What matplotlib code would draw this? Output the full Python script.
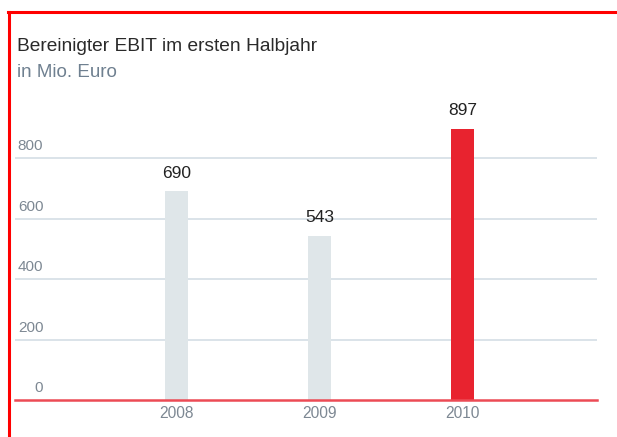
import matplotlib
matplotlib.use("Agg")
import matplotlib.pyplot as plt
from matplotlib.lines import Line2D

# data
years = ["2008", "2009", "2010"]
ebit = [690, 543, 897]
bar_colors = ["#dfe6e9", "#dfe6e9", "#e8232f"]
yticks = [0, 200, 400, 600, 800]

plt.rcParams["font.family"] = ["Liberation Sans", "DejaVu Sans"]

W, H = 617, 437
fig = plt.figure(figsize=(W / 100, H / 100), dpi=100)

# axes placed in pixel terms: x 15..597, baseline at y=400, 0.3025 px per unit
y0, ppu = 400, 0.3025
ymax = 1000
ax = fig.add_axes([15 / W, 1 - y0 / H, (597 - 15) / W, ymax * ppu / H])

x = range(len(years))
ax.bar(x, ebit, width=0.16, color=bar_colors, zorder=2)
ax.set_xlim(-1.13, 2.94)
ax.set_ylim(0, ymax)

for v in yticks[1:]:
    ax.axhline(v, color="#d8e1e7", lw=1.3, zorder=1)
ax.axhline(0, color="#ec4b55", lw=1.8, zorder=3, clip_on=False)

for i, v in enumerate(ebit):
    ax.text(i, v + 35, str(v), ha="center", va="bottom", fontsize=12.5, color="#222222")

for v in yticks:
    ax.text(-1.13 + 0.198, v + 15, str(v), ha="right", va="bottom", fontsize=11, color="#7d8893")

ax.set_xticks(list(x))
ax.set_xticklabels(years, fontsize=11.2, color="#7d8893")
ax.tick_params(axis="x", length=0, pad=4)
ax.set_yticks([])
for s in ax.spines.values():
    s.set_visible(False)

fig.text(17 / W, 1 - 51 / H, "Bereinigter EBIT im ersten Halbjahr", fontsize=13.8,
         color="#2a2a2a", va="baseline")
fig.text(17 / W, 1 - 77 / H, "in Mio. Euro", fontsize=13.5, color="#6f8090", va="baseline")

# red frame (top and left)
fig.add_artist(Line2D([8 / W, 1], [1 - 11.5 / H, 1 - 11.5 / H], color="#ff0000", lw=2.2,
                      transform=fig.transFigure))
fig.add_artist(Line2D([9 / W, 9 / W], [0, 1 - 11.5 / H], color="#ff0000", lw=2.2,
                      transform=fig.transFigure))

fig.savefig("out.png", dpi=100)
